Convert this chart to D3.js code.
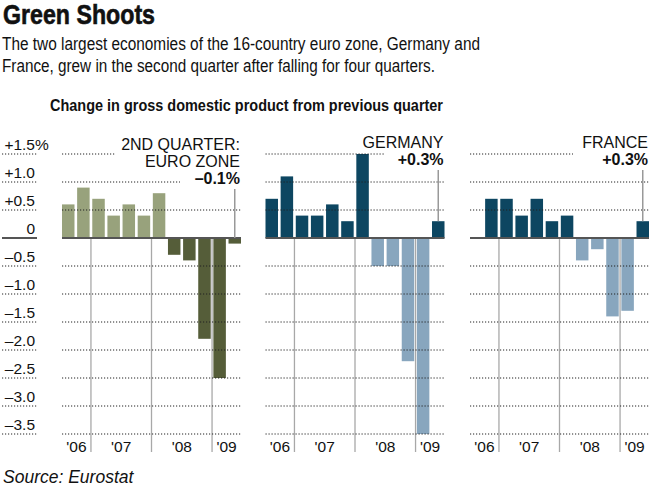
<!DOCTYPE html>
<html>
<head>
<meta charset="utf-8">
<script src="https://cdn.jsdelivr.net/npm/d3@7"></script>
<style>
  body { margin: 0; background: #fff; }
  svg { display: block; }
  text { font-family: "Liberation Sans", Arial, Helvetica, sans-serif; fill: #111; }
</style>
</head>
<body>
<svg id="chart"></svg>
<script>
// quarters 2006 Q3 .. 2009 Q2
const quarters = ["2006Q3", "2006Q4", "2007Q1", "2007Q2", "2007Q3", "2007Q4",
                  "2008Q1", "2008Q2", "2008Q3", "2008Q4", "2009Q1", "2009Q2"];
const yearLabels = ["'06", "'07", "'08", "'09"];
const yearFirstQuarter = ["2006Q3", "2007Q1", "2008Q1", "2009Q1"];

const euroZone = [0.6, 0.9, 0.7, 0.4, 0.6, 0.4, 0.8, -0.3, -0.4, -1.8, -2.5, -0.1];
const germany  = [0.7, 1.1, 0.4, 0.4, 0.6, 0.3, 1.5, -0.5, -0.5, -2.2, -3.5, 0.3];
const france   = [0.0, 0.7, 0.7, 0.4, 0.7, 0.3, 0.4, -0.4, -0.2, -1.4, -1.3, 0.3];

const yTicks = [1.5, 1.0, 0.5, 0, -0.5, -1.0, -1.5, -2.0, -2.5, -3.0, -3.5];
const yTickLabels = ["+1.5", "+1.0", "+0.5", "0", "\u20130.5", "\u20131.0", "\u20131.5",
                     "\u20132.0", "\u20132.5", "\u20133.0", "\u20133.5"];

const width = 650, height = 488;
const svg = d3.select("#chart").attr("width", width).attr("height", height);

// headings
svg.append("text")
    .attr("x", 3).attr("y", 24)
    .style("font-weight", "bold").style("font-size", "27px")
    .style("stroke", "#111").style("stroke-width", "0.6px")
    .attr("textLength", 152).attr("lengthAdjust", "spacingAndGlyphs")
    .text("Green Shoots");

svg.append("text")
    .attr("x", 2).attr("y", 50)
    .style("font-size", "17.5px")
    .attr("textLength", 478).attr("lengthAdjust", "spacingAndGlyphs")
    .text("The two largest economies of the 16-country euro zone, Germany and");
svg.append("text")
    .attr("x", 2).attr("y", 72)
    .style("font-size", "17.5px")
    .attr("textLength", 433).attr("lengthAdjust", "spacingAndGlyphs")
    .text("France, grew in the second quarter after falling for four quarters.");

svg.append("text")
    .attr("x", 50).attr("y", 111)
    .style("font-weight", "bold").style("font-size", "17px")
    .attr("textLength", 393).attr("lengthAdjust", "spacingAndGlyphs")
    .text("Change in gross domestic product from previous quarter");

svg.append("text")
    .attr("x", 3).attr("y", 483)
    .style("font-style", "italic").style("font-size", "17.5px")
    .text("Source: Eurostat");

// shared vertical scale
let y = d3.scaleLinear().domain([1.5, -3.5]).range([154, 434]);

// left tick labels
let axis = svg.append("g");
yTicks.forEach(function (t, i) {
    axis.append("line")
        .attr("x1", 2).attr("x2", 37)
        .attr("y1", y(t)).attr("y2", y(t))
        .attr("stroke", t === 0 ? "#555" : "#222")
        .attr("stroke-width", t === 0 ? 2 : 1)
        .attr("stroke-dasharray", t === 0 ? null : "1.2,1.8");
    axis.append("text")
        .attr("x", 35).attr("y", y(t) - 4)
        .attr("text-anchor", "end")
        .style("font-size", "15.5px")
        .text(yTickLabels[i]);
    if (i === 0) {
        axis.append("text")
            .attr("x", 35).attr("y", y(t) - 4)
            .style("font-size", "15.5px")
            .text("%");
    }
});

let panels = [
    { values: euroZone, x0: 62, pos: "#98a27c", neg: "#555d39",
      notes: ["2ND QUARTER:", "EURO ZONE"], value: "\u20130.1%", noteTop: 150,
      cuts: { "1.5": 115, "1": 180 } },
    { values: germany, x0: 265.5, pos: "#0d4661", neg: "#88a6be",
      notes: ["GERMANY"], value: "+0.3%", noteTop: 148,
      cuts: { "1.5": 385 } },
    { values: france, x0: 470, pos: "#0d4661", neg: "#88a6be",
      notes: ["FRANCE"], value: "+0.3%", noteTop: 148,
      cuts: { "1.5": 573 } }
];

panels.forEach(function (p) {
    let x = d3.scaleBand()
        .domain(quarters)
        .range([p.x0, p.x0 + 179])
        .paddingInner(0.175)
        .paddingOuter(0);
    let x1 = p.x0 + 179;
    let g = svg.append("g");
    let gap = x.step() - x.bandwidth();

    // year separators
    yearFirstQuarter.slice(1).forEach(function (q) {
        let xx = x(q) - gap / 2;
        g.append("line")
            .attr("x1", xx).attr("x2", xx)
            .attr("y1", y(0)).attr("y2", 452)
            .attr("stroke", "#a8a8a8").attr("stroke-width", 1.3);
    });

    // year labels
    yearFirstQuarter.forEach(function (q, i) {
        let left = i === 0 ? p.x0 : x(q) - gap / 2;
        let right = i === yearFirstQuarter.length - 1 ? x1 : x(yearFirstQuarter[i + 1]) - gap / 2;
        g.append("text")
            .attr("x", (left + right) / 2).attr("y", 452)
            .attr("text-anchor", "middle")
            .style("font-size", "15.5px")
            .text(yearLabels[i]);
    });

    // bars
    g.selectAll("rect.bar")
        .data(p.values)
        .enter()
        .append("rect")
        .attr("class", "bar")
        .attr("x", function (d, i) { return x(quarters[i]); })
        .attr("width", x.bandwidth())
        .attr("y", function (d) { return y(Math.max(d, 0)); })
        .attr("height", function (d) { return Math.abs(y(d) - y(0)); })
        .attr("fill", function (d) { return d >= 0 ? p.pos : p.neg; });

    // dotted gridlines on top of bars
    yTicks.filter(function (t) { return t !== 0; }).forEach(function (t) {
        let end = p.cuts[String(t)] || x1;
        g.append("line")
            .attr("x1", p.x0).attr("x2", end)
            .attr("y1", y(t)).attr("y2", y(t))
            .attr("stroke", "#222").attr("stroke-width", 1)
            .attr("stroke-dasharray", "1.2,1.8");
    });

    // zero line
    g.append("line")
        .attr("x1", p.x0).attr("x2", x1)
        .attr("y1", y(0)).attr("y2", y(0))
        .attr("stroke", "#555").attr("stroke-width", 2);

    // annotation
    let lastQ = quarters[quarters.length - 1];
    let last = p.values[p.values.length - 1];
    let cx = x(lastQ) + x.bandwidth() / 2;
    p.notes.forEach(function (n, i) {
        g.append("text")
            .attr("x", x1 - 1).attr("y", p.noteTop + i * 17)
            .attr("text-anchor", "end")
            .style("font-size", "16px")
            .text(n);
    });
    let valueY = p.noteTop + p.notes.length * 17;
    g.append("text")
        .attr("x", x1 - 1).attr("y", valueY)
        .attr("text-anchor", "end")
        .style("font-size", "16px").style("font-weight", "bold")
        .text(p.value);
    g.append("line")
        .attr("x1", cx).attr("x2", cx)
        .attr("y1", valueY + 5).attr("y2", y(Math.max(last, 0)))
        .attr("stroke", "#999").attr("stroke-width", 1.5);
});
</script>
</body>
</html>
